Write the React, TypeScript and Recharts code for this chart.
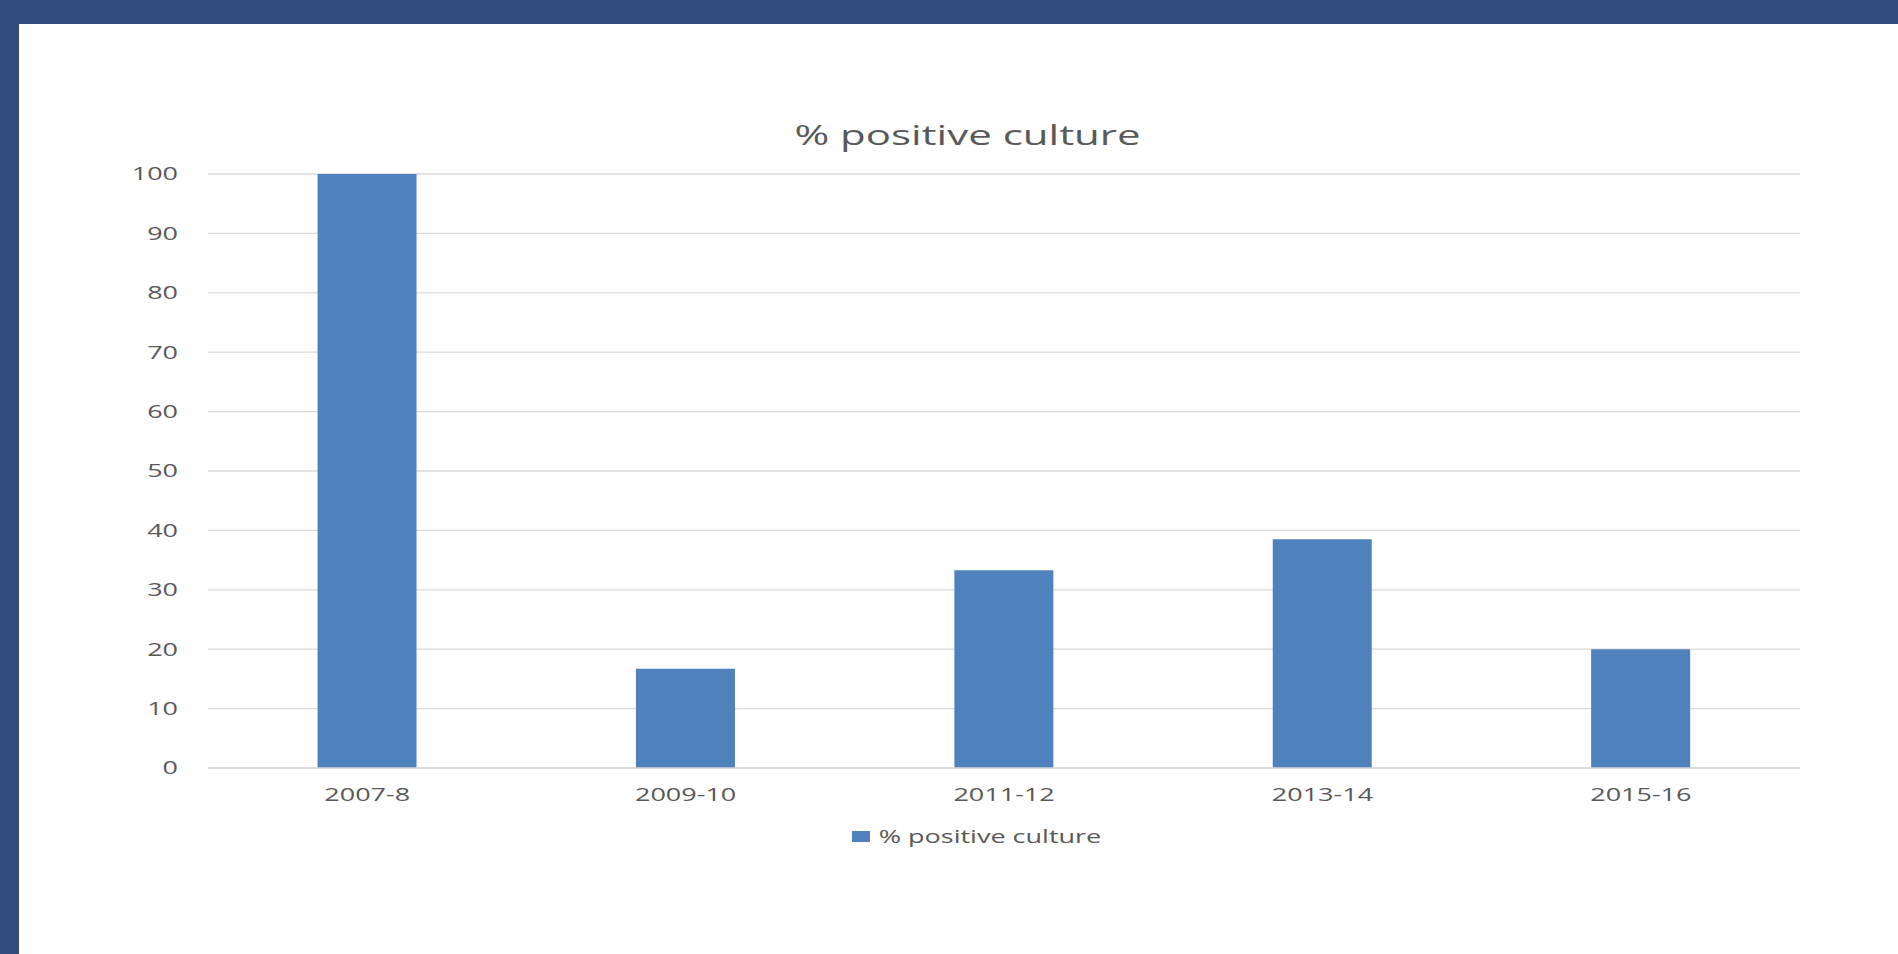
import { BarChart, Bar, XAxis, YAxis, CartesianGrid } from "recharts";

const seasons = ["2007-8", "2009-10", "2011-12", "2013-14", "2015-16"];
const positiveCulture = [100, 16.7, 33.3, 38.5, 20];
const yTicks = [0, 10, 20, 30, 40, 50, 60, 70, 80, 90, 100];

const seriesName = "% positive culture";

// the original slide is stretched sideways, so draw narrow and widen with scaleX
const STRETCH = 1.5;
const W = 1898 / STRETCH;
const H = 954;

const textColor = "#595959";
const barColor = "#4F81BD";
const font = "'Open Sans', sans-serif";

export default function App() {
  const chartData = seasons.map((s, i) => ({ season: s, value: positiveCulture[i] }));

  return (
    <div style={{ position: "fixed", left: 0, top: 0, width: 1898, height: 954, background: "#314D7E", overflow: "hidden" }}>
      <div style={{ position: "absolute", left: 19, top: 24, right: 0, bottom: 0, background: "#fff" }} />

      <div
        style={{
          position: "absolute",
          left: 0,
          top: 0,
          width: W,
          height: H,
          transform: `scaleX(${STRETCH})`,
          transformOrigin: "0 0",
          fontFamily: font,
        }}
      >
        <div
          style={{
            position: "absolute",
            left: 445,
            top: 119,
            width: 400,
            height: 30,
            lineHeight: "30px",
            textAlign: "center",
            fontSize: 28,
            color: textColor,
          }}
        >
          {seriesName}
        </div>

        {/* plot area: y=100 at 174px, y=0 at 768px */}
        <BarChart width={W} height={H} data={chartData} margin={{ top: 174, right: 65.3, bottom: 156, left: 0 }}>
          <CartesianGrid vertical={false} stroke="#D9D9D9" strokeWidth={1.3} />
          <XAxis
            dataKey="season"
            height={30}
            axisLine={{ stroke: "#D9D9D9", strokeWidth: 1.3 }}
            tickLine={false}
            tickSize={0}
            tickMargin={20}
            tick={{ fill: textColor, fontSize: 18, fontFamily: font }}
          />
          <YAxis
            width={138.7}
            domain={[0, 100]}
            ticks={yTicks}
            axisLine={false}
            tickLine={false}
            tickSize={0}
            tickMargin={20}
            tick={{ fill: textColor, fontSize: 18, fontFamily: font }}
          />
          <Bar dataKey="value" name={seriesName} fill={barColor} barSize={66} isAnimationActive={false} />
        </BarChart>

        {/* legend */}
        <div
          style={{
            position: "absolute",
            left: 501,
            top: 824,
            width: 300,
            height: 24,
            display: "flex",
            alignItems: "center",
            justifyContent: "center",
            fontSize: 18,
            color: textColor,
          }}
        >
          <span style={{ display: "inline-block", width: 12, height: 11, background: barColor, marginRight: 6 }} />
          <span>{seriesName}</span>
        </div>
      </div>
    </div>
  );
}
